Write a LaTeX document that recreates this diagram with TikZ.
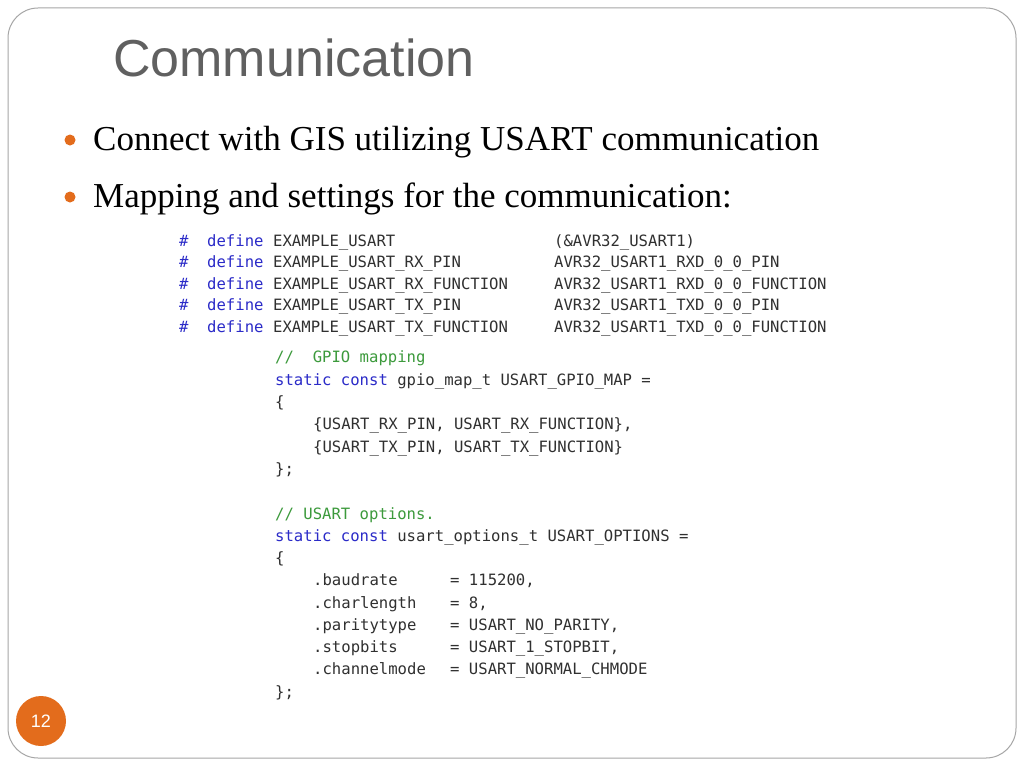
\documentclass[tikz,border=0pt]{standalone}
\usepackage{fontspec}
\setmainfont{Liberation Serif}
\newfontfamily\titlefont{Liberation Sans}
\newfontfamily\codefont{DejaVu Sans Mono}
\definecolor{kw}{HTML}{2B2BC8}
\definecolor{cm}{HTML}{3C9A3C}
\definecolor{tx}{HTML}{303030}
\definecolor{org}{HTML}{E36C1C}
\definecolor{ttl}{HTML}{606060}
\begin{document}
\begin{tikzpicture}[x=1pt,y=-1pt,
  code/.style={anchor=base west,inner sep=0pt,font=\codefont\fontsize{15.6}{15.6}\selectfont,text=tx},
  bul/.style={anchor=base west,inner sep=0pt,font=\fontsize{35}{35}\selectfont,text=black},
  dot/.style={circle,fill=org,inner sep=0pt,minimum size=11pt}]
\useasboundingbox (0,0) rectangle (1024,768);
\fill[white] (0,0) rectangle (1024,768);
\draw[gray!70,line width=1pt,rounded corners=30pt] (8,8) rectangle (1016,758);
\node[anchor=base west,inner sep=0pt,font=\titlefont\fontsize{52}{52}\selectfont,text=ttl] (title) at (113,76) {Communication};
\node[dot] (d1) at (70,140) {};
\node[bul] (b1) at (93,150) {Connect with GIS utilizing USART communication};
\node[dot] (d2) at (70,197) {};
\node[bul] (b2) at (93,207) {Mapping and settings for the communication:};
\foreach \y/\a/\b in {246/EXAMPLE\_USART/(\&AVR32\_USART1),
  267/EXAMPLE\_USART\_RX\_PIN/AVR32\_USART1\_RXD\_0\_0\_PIN,
  289/EXAMPLE\_USART\_RX\_FUNCTION/AVR32\_USART1\_RXD\_0\_0\_FUNCTION,
  310/EXAMPLE\_USART\_TX\_PIN/AVR32\_USART1\_TXD\_0\_0\_PIN,
  332/EXAMPLE\_USART\_TX\_FUNCTION/AVR32\_USART1\_TXD\_0\_0\_FUNCTION}{
  \node[code,text=kw] at (179,\y) {\#};
  \node[code,text=kw] at (207,\y) {define};
  \node[code] at (273,\y) {\a};
  \node[code] at (554,\y) {\b};
}
\node[code,text=cm] (c1) at (275,362) {//\ \ GPIO mapping};
\node[code] (c2) at (275,385) {\textcolor{kw}{static const} gpio\_map\_t USART\_GPIO\_MAP =};
\node[code] (c3) at (275,407) {\{};
\node[code] (c4) at (313,429) {\{USART\_RX\_PIN, USART\_RX\_FUNCTION\},};
\node[code] (c5) at (313,452) {\{USART\_TX\_PIN, USART\_TX\_FUNCTION\}};
\node[code] (c6) at (275,474) {\};};
\node[code,text=cm] (c7) at (275,519) {// USART options.};
\node[code] (c8) at (275,541) {\textcolor{kw}{static const} usart\_options\_t USART\_OPTIONS =};
\node[code] (c9) at (275,563) {\{};
\foreach \y/\a/\b in {585/.baudrate/{115200,}, 608/.charlength/{8,}, 630/.paritytype/{USART\_NO\_PARITY,},
  652/.stopbits/{USART\_1\_STOPBIT,}, 674/.channelmode/{USART\_NORMAL\_CHMODE}}{
  \node[code] at (313,\y) {\a};
  \node[code] at (450,\y) {= \b};
}
\node[code] (c10) at (275,697) {\};};
\node[circle,fill=org,minimum size=50pt,inner sep=0pt,text=white,font=\titlefont\fontsize{18}{18}\selectfont] (pg) at (41,721) {12};
\end{tikzpicture}
\end{document}
